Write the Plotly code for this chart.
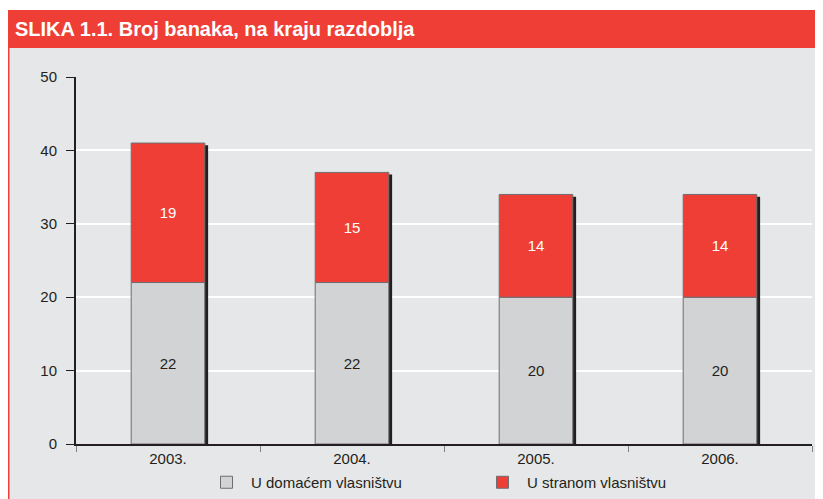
import plotly.graph_objects as go

years = ["2003.", "2004.", "2005.", "2006."]
domestic = [22, 22, 20, 20]
foreign = [19, 15, 14, 14]
totals = [d + f for d, f in zip(domestic, foreign)]
title_text = "SLIKA 1.1. Broj banaka, na kraju razdoblja"
names = ["U domaćem vlasništvu", "U stranom vlasništvu"]

RED = "#ef3e35"
GRAY_BAR = "#d1d3d4"
BG = "#e6e7e8"
DARK = "#231f20"

# page body has an 8px margin, so the figure is drawn 8px right/down
W, H = 815, 491
L, R, T, B = 68, 11, 69, 55
pw, ph = W - L - R, H - T - B

def px(x):
    return (x - L) / pw

def py(y):
    return (H - B - y) / ph

fig = go.Figure()

# shadow
fig.add_trace(go.Bar(
    x=years, y=totals, base=[-0.3] * len(years), width=0.4, offset=-0.2 + 0.018,
    marker=dict(color=DARK, line=dict(width=0)), showlegend=False, hoverinfo="skip"))

fig.add_trace(go.Bar(
    x=years, y=domestic, width=0.4, offset=-0.2, name=names[0],
    marker=dict(color=GRAY_BAR, line=dict(color="#6d6e71", width=1)),
    text=[str(v) for v in domestic], textposition="inside", insidetextanchor="middle",
    textfont=dict(color=DARK, size=15, family="Liberation Sans, Arial"),
    textangle=0))
fig.add_trace(go.Bar(
    x=years, y=foreign, base=domestic, width=0.4, offset=-0.2, name=names[1],
    marker=dict(color=RED, line=dict(color="#6d6e71", width=1)),
    text=[str(v) for v in foreign], textposition="inside", insidetextanchor="middle",
    textfont=dict(color="white", size=15, family="Liberation Sans, Arial"),
    textangle=0))

shapes = [
    dict(type="rect", xref="paper", yref="paper", x0=px(0), x1=px(W), y0=py(H), y1=py(40),
         fillcolor=BG, line=dict(width=0), layer="below"),
    dict(type="rect", xref="paper", yref="paper", x0=px(0), x1=px(W), y0=py(40), y1=py(2),
         fillcolor=RED, line=dict(width=0), layer="below"),
    dict(type="line", xref="paper", yref="paper", x0=px(0.75), x1=px(0.75), y0=py(H), y1=py(2),
         line=dict(color=RED, width=1.5)),
]

fig.update_layout(
    width=W, height=H,
    margin=dict(l=L, r=R, t=T, b=B, pad=0, autoexpand=False),
    paper_bgcolor="white", plot_bgcolor=BG,
    barmode="overlay",
    font=dict(family="Liberation Sans, Arial", size=15, color=DARK),
    shapes=shapes,
    annotations=[dict(text="<b>" + title_text + "</b>", xref="paper", yref="paper",
                      x=px(5), y=py(21), xanchor="left", yanchor="middle", showarrow=False,
                      font=dict(family="Liberation Sans, Arial", size=20, color="white"))],
    xaxis=dict(type="category", showline=True, linecolor=DARK, linewidth=2,
               ticks="outside", tickson="boundaries", ticklen=6, tickcolor="#808285",
               showgrid=False, tickfont=dict(size=15), ticklabelstandoff=0),
    yaxis=dict(range=[0, 50], dtick=10, showline=True, linecolor=DARK, linewidth=2,
               ticks="outside", ticklen=8, tickcolor=DARK, showgrid=True, gridcolor="white",
               gridwidth=1.5, zeroline=False, tickfont=dict(size=15), ticklabelstandoff=6),
    legend=dict(orientation="h", x=px(194), y=py(458), xanchor="left", yanchor="top",
                bgcolor="rgba(0,0,0,0)", font=dict(size=15), entrywidth=222, entrywidthmode="pixels",
                itemwidth=39, traceorder="normal"),
    bargap=0.6,
)

fig.write_html("out.html")
